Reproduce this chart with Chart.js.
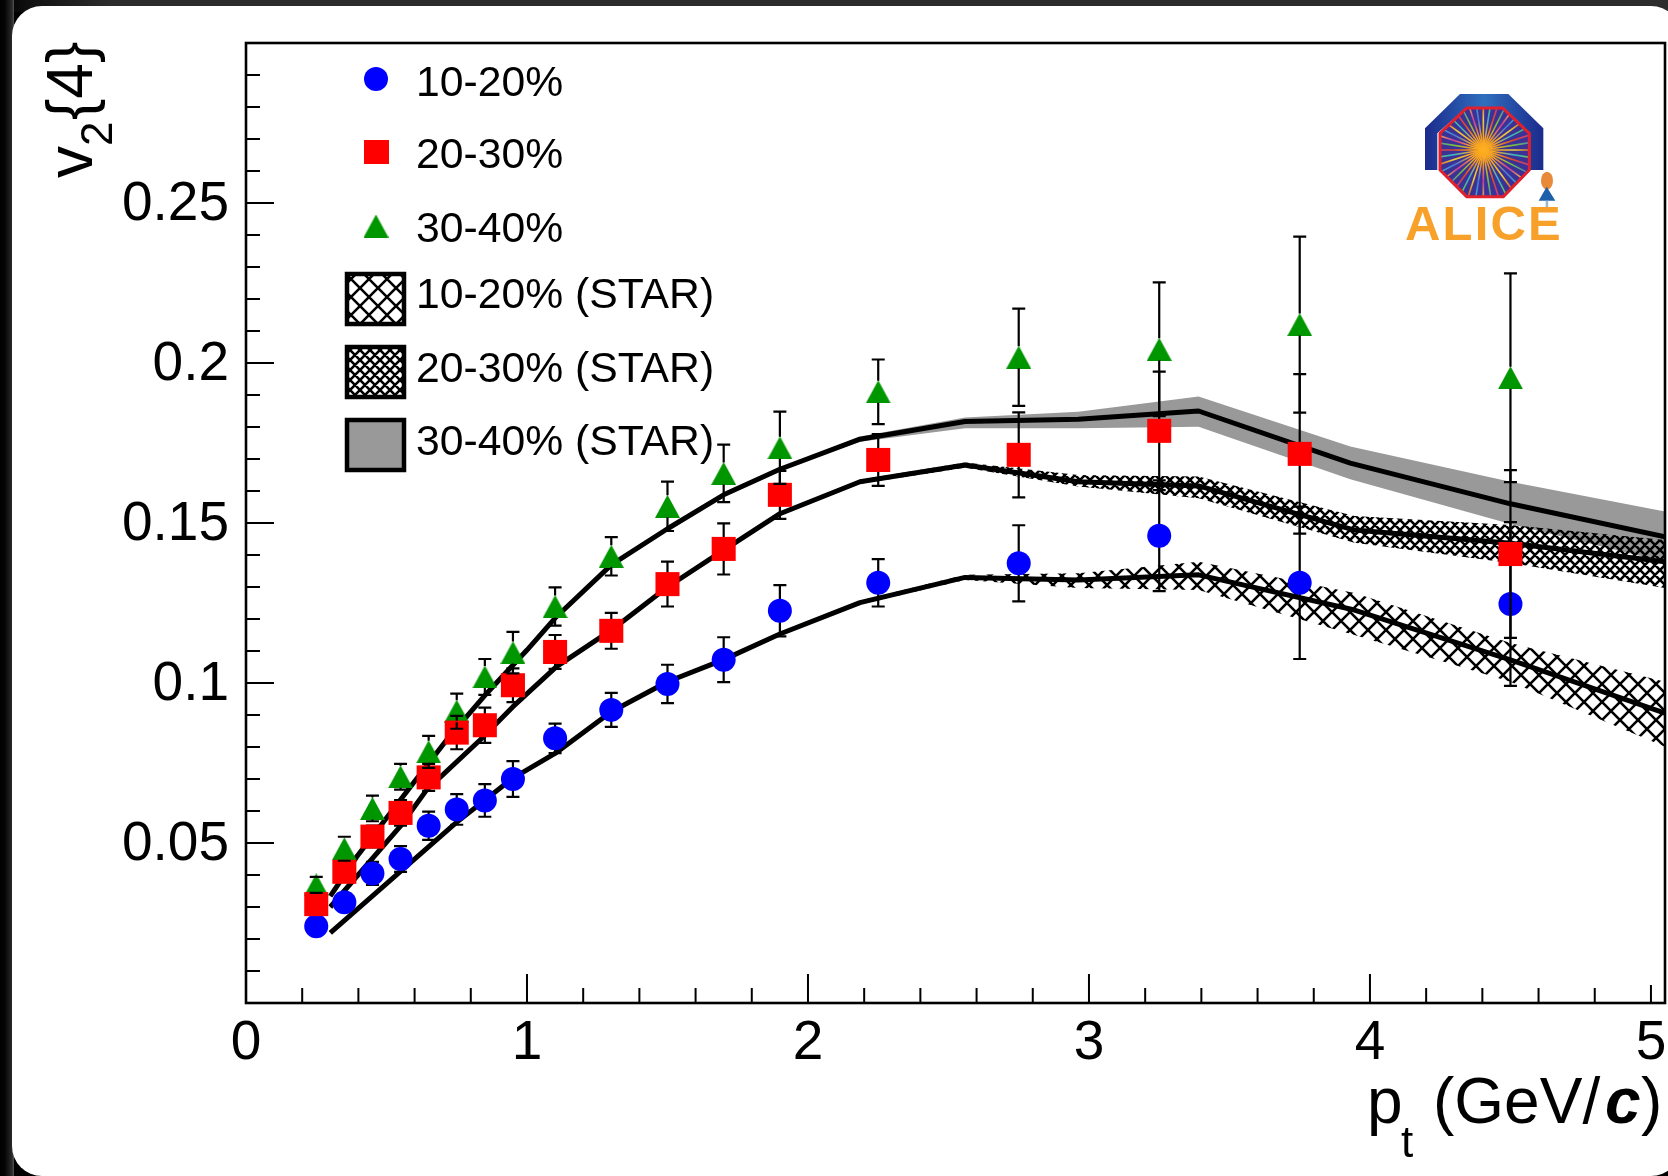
<!DOCTYPE html>
<html><head><meta charset="utf-8">
<style>
html,body{margin:0;padding:0;width:1668px;height:1176px;overflow:hidden;background:#000}
#bgTop{position:absolute;left:0;top:0;width:1668px;height:12px;background:linear-gradient(to right,#000 0,#111 30px,#2c2c2c 110px,#2c2c2c 100%)}
#bgLeft{position:absolute;left:0;top:0;width:14px;height:1176px;background:linear-gradient(to right,#000 0,#050505 5px,#2a2a2a 12px,#555 14px)}
#panel{position:absolute;left:12px;top:6px;width:1669px;height:1170px;background:#fff;border-radius:30px}
#wrap{position:absolute;left:0;top:0;width:1668px;height:1176px;overflow:hidden}
#c{position:absolute;left:0;top:0}
</style>
<script src="https://cdn.jsdelivr.net/npm/chart.js@4/dist/chart.umd.min.js"></script>
</head><body>
<div id="bgTop"></div><div id="bgLeft"></div><div id="panel"></div>
<div id="wrap"><canvas id="c" width="1682" height="1176"></canvas></div>
<script>
// ---------- measured points ----------
const ptCenters = [0.25,0.35,0.45,0.55,0.65,0.75,0.85,0.95,1.1,1.3,1.5,1.7,1.9,2.25,2.75,3.25,3.75,4.5];
const v2_10_20 = [.024,.0315,.0405,.045,.0554,.0605,.0633,.07,.0827,.0916,.0997,.1073,.1226,.1313,.1374,.146,.1313,.1247];
const err_10_20 = [.002,.0028,.0036,.004,.0044,.0048,.0051,.0056,.0046,.0053,.006,.007,.008,.0074,.0119,.0173,.0238,.0256];
const v2_20_30 = [.0309,.041,.052,.0594,.0705,.0845,.0868,.0993,.1097,.1163,.1309,.1419,.1588,.1697,.1713,.1788,.1716,.1403];
const err_20_30 = [.002,.0028,.0034,.004,.0042,.0052,.0055,.0053,.0053,.0056,.007,.008,.0075,.0081,.0133,.0185,.0249,.0262];
const v2_30_40 = [.0369,.0482,.0608,.0707,.0785,.0912,.1019,.1095,.1239,.1396,.1552,.1655,.1735,.191,.2018,.2043,.212,.1954];
const err_30_40 = [.0025,.00375,.004,.004,.005,.0055,.0056,.0065,.006,.006,.0077,.009,.0113,.0101,.0152,.0209,.0275,.0326];

// ---------- STAR bands ----------
const star10X = [.3,.548,.746,.95,1.1,1.3,1.5,1.7,1.9,2.185,2.559,2.962,3.39,3.945,4.5,5.05];
const star10Mid = [.0219,.041,.0562,.0703,.078,.091,.1004,.1073,.1153,.1251,.133,.1322,.1338,.1228,.1072,.0906];
const star10Up = [.0222,.0414,.0566,.0707,.0784,.0914,.1008,.1077,.1157,.1257,.1338,.1343,.1379,.1281,.1125,.1004];
const star10Lo = [.0216,.0406,.0558,.0699,.0776,.0906,.1,.1069,.1149,.1245,.1322,.1297,.1291,.115,.1004,.0801];
const star20X = [.3,.548,.643,.833,.95,1.105,1.3,1.5,1.7,1.9,2.185,2.559,2.962,3.39,3.945,4.5,5.05];
const star20Mid = [.03,.0551,.0666,.0822,.0926,.1051,.1165,.13,.1415,.1529,.1629,.1681,.1629,.1616,.1478,.1437,.1379];
const star20Up = [.0303,.0555,.067,.0826,.093,.1055,.1169,.1304,.1419,.1533,.1635,.1689,.165,.1645,.1522,.1494,.1447];
const star20Lo = [.0297,.0547,.0662,.0818,.0922,.1047,.1161,.1296,.1411,.1525,.1623,.1673,.1614,.1577,.1438,.1375,.1297];
const star30X = [.3,.394,.595,.714,.857,1.0,1.1,1.3,1.5,1.7,1.9,2.185,2.559,2.962,3.39,3.93,4.5,5.05];
const star30Mid = [.0334,.0457,.0687,.0822,.0968,.1103,.1203,.1369,.1482,.1588,.1668,.1762,.1817,.1824,.185,.1687,.156,.1457];
const star30Up = [.0337,.046,.069,.0825,.0971,.1106,.1206,.1372,.1485,.1591,.1672,.177,.183,.1848,.1895,.1739,.1629,.1536];
const star30Lo = [.0331,.0454,.0684,.0819,.0965,.11,.12,.1366,.1479,.1585,.1664,.1754,.1796,.1796,.1801,.1637,.1497,.1378];

const legendLabels = ['10-20%','20-30%','30-40%','10-20% (STAR)','20-30% (STAR)','30-40% (STAR)'];

const BLUE='#0000ff', RED='#ff0000', GREEN='#009600', GREY='#999999';
const FONT='"Liberation Sans", Arial, sans-serif';

function hatch(p,lw){
  const c=document.createElement('canvas');c.width=c.height=p;
  const x=c.getContext('2d');x.strokeStyle='#000';x.lineWidth=lw;x.beginPath();
  for(const o of [-p,0,p]){x.moveTo(o-1,-1);x.lineTo(o+p+1,p+1);x.moveTo(o-1,p+1);x.lineTo(o+p+1,-1);}
  x.stroke();
  return document.getElementById('c').getContext('2d').createPattern(c,'repeat');
}
const hatch10=hatch(18,2.6), hatch20=hatch(10,2.6);
function triCanvas(){
  const c=document.createElement('canvas');c.width=25;c.height=23;
  const x=c.getContext('2d');x.fillStyle=GREEN;x.beginPath();x.moveTo(12.5,0);x.lineTo(25,23);x.lineTo(0,23);x.closePath();x.fill();
  return c;
}
const triangle=triCanvas();
const zip=(xs,ys)=>xs.map((x,i)=>({x,y:ys[i]}));

const bandLine=(data,color,fill)=>({type:'scatter',data,showLine:true,borderWidth:0,borderColor:'rgba(0,0,0,0)',pointRadius:0,backgroundColor:color,fill:fill?'+1':false,tension:0});
const midLine=(data)=>({type:'scatter',data,showLine:true,borderWidth:5,borderColor:'#000',pointRadius:0,fill:false,tension:0,borderJoinStyle:'round'});
const marks=(label,ys,errs,style,r,color)=>({type:'scatter',label,data:zip(ptCenters,ys),yErr:errs,showLine:false,pointStyle:style,pointRadius:r,pointBackgroundColor:color,pointBorderWidth:0,pointBorderColor:color,backgroundColor:color});

const datasets=[
  bandLine(zip(star30X,star30Up),GREY,true), bandLine(zip(star30X,star30Lo),GREY,false),
  bandLine(zip(star20X,star20Up),hatch20,true), bandLine(zip(star20X,star20Lo),hatch20,false),
  bandLine(zip(star10X,star10Up),hatch10,true), bandLine(zip(star10X,star10Lo),hatch10,false),
  midLine(zip(star30X,star30Mid)), midLine(zip(star20X,star20Mid)), midLine(zip(star10X,star10Mid)),
  marks('10-20%',v2_10_20,err_10_20,'circle',12,BLUE),
  marks('30-40%',v2_30_40,err_30_40,triangle,12,GREEN),
  marks('20-30%',v2_20_30,err_20_30,'rect',17,RED)
];
datasets.forEach((d,i)=>d.order=datasets.length-i);

function drawErrors(chart,ds){
  const ctx=chart.ctx,xs=chart.scales.x,ys=chart.scales.y;
  ctx.save();ctx.strokeStyle='#000';ctx.lineWidth=2.2;ctx.beginPath();
  ds.data.forEach((p,i)=>{
    const x=xs.getPixelForValue(p.x),y=ys.getPixelForValue(p.y);
    const t=ys.getPixelForValue(p.y+ds.yErr[i]),b=ys.getPixelForValue(p.y-ds.yErr[i]);
    const gap=11;
    if(t<y-gap){ctx.moveTo(x,y-gap);ctx.lineTo(x,t);}
    if(b>y+gap){ctx.moveTo(x,y+gap);ctx.lineTo(x,b);}
    ctx.moveTo(x-6.5,t);ctx.lineTo(x+6.5,t);
    ctx.moveTo(x-6.5,b);ctx.lineTo(x+6.5,b);
  });
  ctx.stroke();ctx.restore();
}

const errorBars={id:'errorBars',
  beforeDatasetDraw(chart,args){
    const ds=chart.data.datasets[args.index];
    if(ds.yErr&&ds.label!=='30-40%')drawErrors(chart,ds);
  },
  afterDatasetsDraw(chart){
    chart.data.datasets.filter(d=>d.label==='30-40%').forEach(d=>drawErrors(chart,d));
  }
};

function drawLogo(ctx){
  const X=v=>1350+v/3,Y=v=>70+v/3;
  const poly=(pts)=>{ctx.beginPath();pts.forEach((p,i)=>i?ctx.lineTo(X(p[0]),Y(p[1])):ctx.moveTo(X(p[0]),Y(p[1])));ctx.closePath();};
  ctx.save();
  const g=ctx.createLinearGradient(X(225),0,X(580),0);
  g.addColorStop(0,'#1c2a8c');g.addColorStop(.5,'#2f6fbe');g.addColorStop(1,'#1c2a8c');
  ctx.fillStyle=g;
  poly([[225,300],[225,175],[330,72],[475,72],[580,175],[580,300],[540,300],[540,190],[458,112],[350,112],[262,190],[262,300]]);ctx.fill();
  const oct=[[270,190],[350,114],[458,114],[538,190],[538,300],[460,380],[350,380],[270,300]];
  ctx.fillStyle='#3c3296';poly(oct);ctx.fill();
  ctx.save();poly(oct);ctx.clip();
  const cols=['#e8d23a','#35b4c8','#d8482a','#6fc241','#c83c9c','#4a78d8'];
  const cx=X(400),cy=Y(240);
  for(let i=0;i<40;i++){
    const a=i*2*Math.PI/40,ex=cx+Math.cos(a)*52,ey=cy+Math.sin(a)*52;
    const r=ctx.createLinearGradient(cx,cy,ex,ey);
    r.addColorStop(0,'#ffb020');r.addColorStop(.25,'#f6a020');r.addColorStop(.6,cols[i%cols.length]);r.addColorStop(1,cols[(i+2)%cols.length]);
    ctx.strokeStyle=r;ctx.lineWidth=1.6;ctx.beginPath();ctx.moveTo(cx,cy);ctx.lineTo(ex,ey);ctx.stroke();
  }
  ctx.restore();
  ctx.strokeStyle='#e0202c';ctx.lineWidth=3;poly(oct);ctx.stroke();
  // small figure
  ctx.fillStyle='#e88a3a';ctx.beginPath();ctx.ellipse(X(591),Y(332),6,9,0,0,7);ctx.fill();
  ctx.fillStyle='#1d5fa8';poly([[590,350],[616,392],[566,392]]);ctx.fill();
  ctx.fillStyle='#9db8cc';ctx.fillRect(X(587),Y(392),2.5,9);
  // word mark
  ctx.fillStyle='#f7a12b';ctx.font='bold 49px '+FONT;ctx.textAlign='left';ctx.textBaseline='alphabetic';
  ctx.letterSpacing='2.2px';ctx.fillText('ALICE',X(165),Y(510));ctx.letterSpacing='0px';
  ctx.restore();
}

const decorations={id:'decorations',
  afterDatasetsDraw(chart){
    const ctx=chart.ctx,a=chart.chartArea,xs=chart.scales.x,ys=chart.scales.y;
    ctx.save();ctx.strokeStyle='#000';
    // inward ticks
    ctx.lineWidth=2;ctx.beginPath();
    xs.ticks.forEach(t=>{
      const v=Math.round(t.value*10)/10; if(v<=0)return;
      const p=xs.getPixelForValue(t.value);
      const major=Number.isInteger(v);
      const len=v===5?18:(major?29:15);
      ctx.moveTo(p,a.bottom);ctx.lineTo(p,a.bottom-len);
    });
    ys.ticks.forEach(t=>{
      const v=Math.round(t.value*100); if(v<=0||v>=30)return;
      const p=ys.getPixelForValue(t.value);
      ctx.moveTo(a.left,p);ctx.lineTo(a.left+(v%5===0?28:14),p);
    });
    ctx.stroke();
    // frame
    ctx.lineWidth=2.6;ctx.strokeRect(a.left,a.top,a.right-a.left,a.bottom-a.top);
    ctx.fillStyle='#000';ctx.textBaseline='alphabetic';
    // x title
    ctx.textAlign='left';
    ctx.font='64px '+FONT;ctx.fillText('p',1367,1123);
    ctx.font='44px '+FONT;ctx.fillText('t',1401,1157);
    ctx.font='64px '+FONT;ctx.fillText('(GeV/',1433,1123);
    ctx.font='italic bold 64px '+FONT;ctx.fillText('c',1605,1123);
    ctx.font='64px '+FONT;ctx.fillText(')',1641,1123);
    // y title
    ctx.save();ctx.translate(92,178);ctx.rotate(-Math.PI/2);
    ctx.font='64px '+FONT;ctx.fillText('v',0,0);
    ctx.font='44px '+FONT;ctx.fillText('2',32,20);
    ctx.font='64px '+FONT;ctx.fillText('{4}',58,0);
    ctx.restore();
    // legend
    ctx.fillStyle=BLUE;ctx.beginPath();ctx.ellipse(376,79,12,12,0,0,7);ctx.fill();
    ctx.fillStyle=RED;ctx.fillRect(364,140,25,24);
    ctx.drawImage(triangle,363.5,214.5);
    const boxes=[[347,274,hatch10],[347,347,hatch20],[347,420,GREY]];
    boxes.forEach(b=>{ctx.fillStyle='#fff';ctx.fillRect(b[0],b[1],57,50);ctx.fillStyle=b[2];ctx.fillRect(b[0],b[1],57,50);ctx.lineWidth=4.5;ctx.strokeRect(b[0],b[1],57,50);});
    ctx.fillStyle='#000';ctx.font='42.7px '+FONT;
    const base=[96,168,241.5,308,381.5,455];
    legendLabels.forEach((s,i)=>ctx.fillText(s,416,base[i]));
    drawLogo(ctx);
    ctx.restore();
  }
};

new Chart(document.getElementById('c'),{
  type:'scatter',
  data:{datasets},
  plugins:[errorBars,decorations],
  options:{
    responsive:false,animation:false,devicePixelRatio:1,
    layout:{padding:{top:43,right:3,left:0,bottom:0}},
    plugins:{legend:{display:false},tooltip:{enabled:false},title:{display:false}},
    elements:{line:{borderCapStyle:'butt'}},
    scales:{
      x:{type:'linear',min:0,max:5.05,grid:{display:false,drawTicks:false},border:{display:false},
        afterFit(s){s.height=173;},
        ticks:{stepSize:.2,includeBounds:false,autoSkip:false,maxRotation:0,padding:8,color:'#000',font:{family:'"Liberation Sans"',size:55},
          callback(v){const r=Math.round(v*10)/10;return Number.isInteger(r)?String(r):'';}}},
      y:{type:'linear',min:0,max:.3,grid:{display:false,drawTicks:false},border:{display:false},
        afterFit(s){s.width=246;s.paddingTop=0;s.paddingBottom=0;},
        ticks:{stepSize:.01,includeBounds:false,autoSkip:false,padding:17,labelOffset:2,color:'#000',font:{family:'"Liberation Sans"',size:55},
          callback(v){const r=Math.round(v*100);return (r>0&&r<30&&r%5===0)?String(r/100):'';}}}
    }
  }
});
</script>
</body></html>
